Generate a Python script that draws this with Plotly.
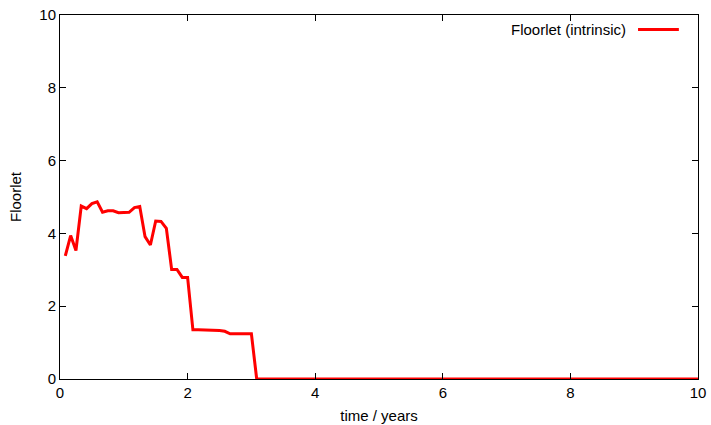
import plotly.graph_objects as go

# time in years (monthly steps); the value stays at 0 from 3.083 to 10
time_years = [0.083, 0.167, 0.25, 0.333, 0.417, 0.5, 0.583, 0.667, 0.75, 0.833,
              0.917, 1.0, 1.083, 1.167, 1.25, 1.333, 1.417, 1.5, 1.583, 1.667,
              1.75, 1.833, 1.917, 2.0, 2.083, 2.167, 2.25, 2.333, 2.417, 2.5,
              2.583, 2.667, 2.75, 2.833, 2.917, 3.0, 3.083, 10.0]
floorlet = [3.38, 3.94, 3.53, 4.75, 4.68, 4.82, 4.87, 4.58, 4.62, 4.62,
            4.57, 4.58, 4.58, 4.71, 4.74, 3.91, 3.68, 4.34, 4.33, 4.14,
            3.01, 3.01, 2.79, 2.79, 1.35, 1.35, 1.35, 1.35, 1.35, 1.33,
            1.31, 1.24, 1.24, 1.24, 1.24, 1.24, 0.0, 0.0]
series_name = "Floorlet (intrinsic)"
x_ticks = [0, 2, 4, 6, 8, 10]
y_ticks = [0, 2, 4, 6, 8, 10]

FONT = "Liberation Sans, Arial, Helvetica, sans-serif"

fig = go.Figure()
fig.add_trace(go.Scatter(x=time_years, y=floorlet, mode="lines", name=series_name,
                         line=dict(color="#ff0000", width=3), showlegend=False))

axis_common = dict(showgrid=False, zeroline=False, showline=True, linecolor="black",
                   linewidth=1, mirror="allticks", ticks="inside", ticklen=6,
                   tickcolor="black", tickwidth=1, automargin=False,
                   tickfont=dict(family=FONT, size=15, color="black"))

fig.update_xaxes(range=[0, 10], tickvals=x_ticks,
                 title=dict(text="time / years", font=dict(family=FONT, size=15, color="black"), standoff=10),
                 **axis_common)
fig.update_yaxes(range=[0, 10], tickvals=y_ticks,
                 title=dict(text="Floorlet", font=dict(family=FONT, size=15, color="black"), standoff=14),
                 **axis_common)

# gnuplot-style key: text then line sample
fig.add_annotation(xref="paper", yref="paper", x=0.891, y=0.96, xanchor="right", yanchor="middle",
                   text=series_name, showarrow=False,
                   font=dict(family=FONT, size=15, color="black"))
fig.add_shape(type="line", xref="paper", yref="paper", x0=0.906, x1=0.97, y0=0.96, y1=0.96,
              line=dict(color="#ff0000", width=3))

fig.update_layout(width=711, height=425, plot_bgcolor="white", paper_bgcolor="white",
                  margin=dict(l=60, r=13, t=15, b=46),
                  font=dict(family=FONT, size=15, color="black"))

fig.write_html("out.html", config={"displayModeBar": False},
               post_script="document.body.style.margin='0px';document.body.style.overflow='hidden';")
